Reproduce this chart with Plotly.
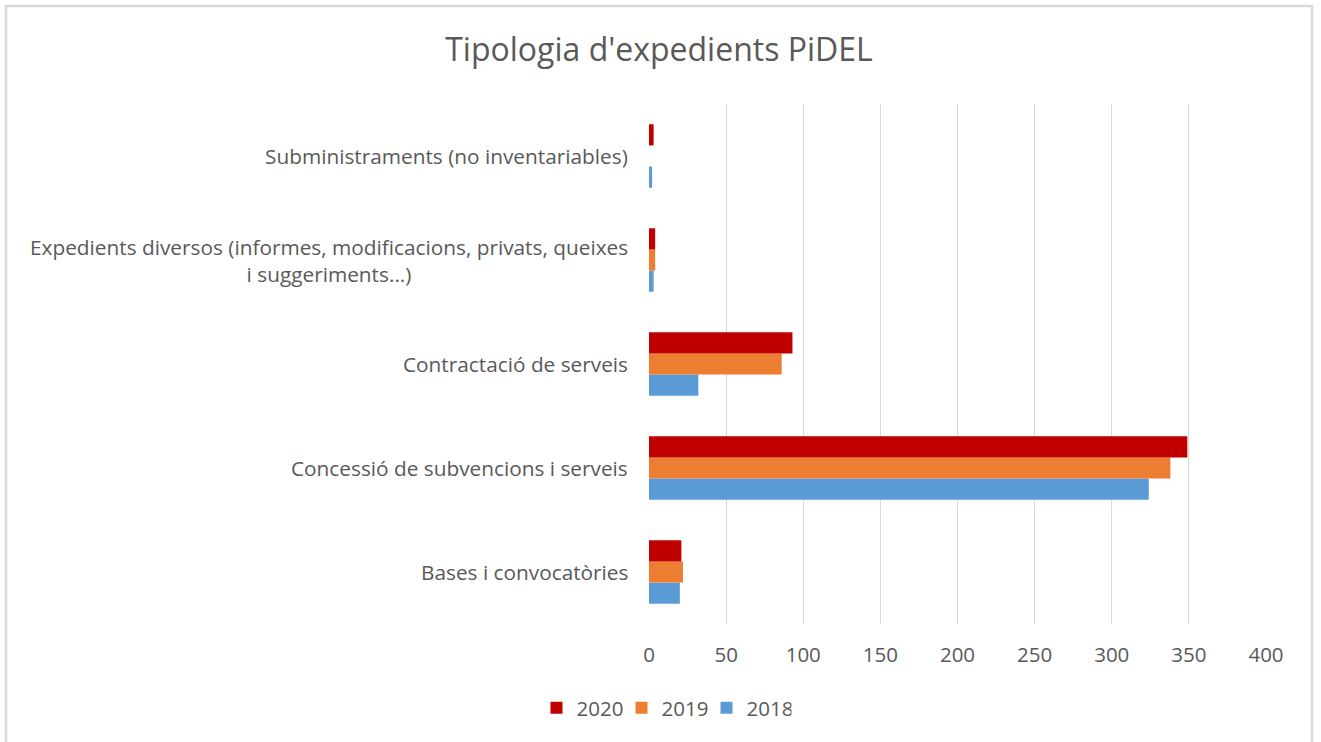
import plotly.graph_objects as go

categories = [
    "Bases i convocatòries",
    "Concessió de subvencions i serveis",
    "Contractació de serveis",
    "Expedients diversos (informes, modificacions, privats, queixes<br>i suggeriments...)",
    "Subministraments (no inventariables)",
]
years = ["2018", "2019", "2020"]
values_2018 = [20, 324, 32, 3, 2]
values_2019 = [22, 338, 86, 4, None]
values_2020 = [21, 349, 93, 4, 3]
colors = {"2018": "#5b9bd5", "2019": "#ed7d31", "2020": "#c00000"}
x_ticks = [0, 50, 100, 150, 200, 250, 300, 350, 400]

series = {"2018": values_2018, "2019": values_2019, "2020": values_2020}
FONT = "Open Sans, sans-serif"
GRAY = "#595959"

fig = go.Figure()
for y in years:
    fig.add_trace(go.Bar(
        name=y, y=categories, x=series[y], orientation="h",
        marker=dict(color=colors[y], line=dict(width=0)),
    ))

W, H = 1321, 742
ml, mr, mt, mb = 649, 55, 104, 118
pw, ph = W - ml - mr, H - mt - mb

annotations = []
for c in categories:
    annotations.append(dict(
        x=-0.031, xref="paper", y=c, yref="y", text=c, showarrow=False,
        xanchor="right", yanchor="middle", align="center",
        font=dict(family=FONT, size=20.8, color=GRAY),
    ))

fig.update_layout(
    width=W, height=H,
    margin=dict(l=ml, r=mr, t=mt, b=mb),
    paper_bgcolor="white", plot_bgcolor="white",
    barmode="group", bargap=0.39, bargroupgap=0,
    title=dict(text="Tipologia d'expedients PiDEL", x=659 / W, xanchor="center",
               y=1 - 50 / H, yanchor="middle",
               font=dict(family=FONT, size=32, color=GRAY)),
    xaxis=dict(range=[0, 400], tickvals=x_ticks, showgrid=True, gridcolor="#d9d9d9",
               gridwidth=1, zeroline=False, showline=False, ticks="",
               tickfont=dict(family=FONT, size=20.5, color=GRAY), ticklabelstandoff=16),
    yaxis=dict(showticklabels=False, showgrid=False, zeroline=False, showline=False,
               categoryorder="array", categoryarray=categories),
    legend=dict(orientation="h", x=(664 - ml) / pw, xanchor="center",
                y=-(708 - (mt + ph)) / ph, yanchor="middle", traceorder="reversed",
                font=dict(family=FONT, size=20.5, color=GRAY), itemwidth=30,
                entrywidth=40, entrywidthmode="pixels"),
    annotations=annotations,
    showlegend=True,
    shapes=[dict(type="rect", xref="paper", yref="paper",
                 x0=(6 - ml) / pw, x1=(1312 - ml) / pw,
                 y0=(mt + ph - 760) / ph, y1=(mt + ph - 6) / ph,
                 line=dict(color="#d9d9d9", width=2.5), layer="below")],
)

fig.write_html("out.html", config={"displayModeBar": False},
               post_script="document.body.style.margin='0';")
